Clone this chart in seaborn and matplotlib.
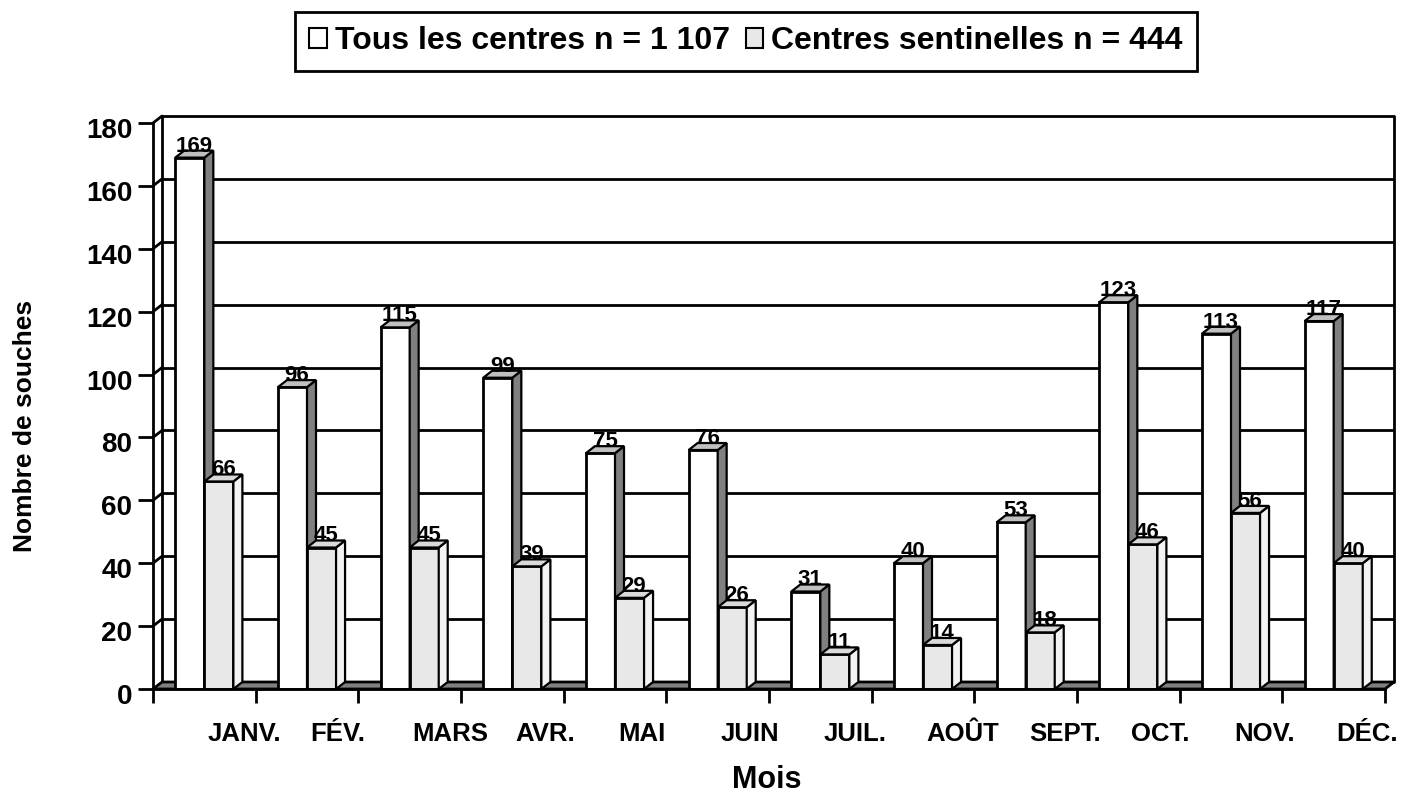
"""
Souches par mois : tous les centres vs centres sentinelles (barres 3D facon Excel)
"""

import numpy as np
import pandas as pd
import matplotlib
matplotlib.use('Agg')
import matplotlib.pyplot as plt
from matplotlib.patches import Polygon, Patch
from matplotlib.transforms import ScaledTranslation
import seaborn as sns

mois = ['JANV.', 'FÉV.', 'MARS', 'AVR.', 'MAI', 'JUIN', 'JUIL.', 'AOÛT', 'SEPT.', 'OCT.', 'NOV.', 'DÉC.']
tous = [169, 96, 115, 99, 75, 76, 31, 40, 53, 123, 113, 117]
sentinelles = [66, 45, 45, 39, 29, 26, 11, 14, 18, 46, 56, 40]
series = ['Tous les centres n = 1 107', 'Centres sentinelles n = 444']
yticks = np.arange(0, 181, 20)

sns.set_style('white')
plt.rcParams['font.family'] = ['Liberation Sans', 'DejaVu Sans']
plt.rcParams['font.weight'] = 'bold'
plt.rcParams['text.color'] = 'black'
plt.rcParams['axes.labelcolor'] = 'black'

df = pd.DataFrame({
    'Mois': mois * 2,
    'n': tous + sentinelles,
    'serie': [series[0]] * len(mois) + [series[1]] * len(mois),
})

fig = plt.figure(figsize=(14.04, 7.94), dpi=100)
ax = fig.add_axes([153/1404, 1-689/794, 1232/1404, 566/794])

front = {series[0]: 'white', series[1]: '#e8e8e8'}
sns.barplot(data=df, x='Mois', y='n', hue='serie', palette=front, width=0.566,
            saturation=1, edgecolor='black', linewidth=2, legend=False, ax=ax)

ax.set_xlim(-0.5, 11.5)
ax.set_ylim(0, 180)

# depth of the fake 3D, in data units (~9 px right, ~7 px up)
ddx = 9 / 102.67
ddy = 7 / 3.144
x_lo, x_hi = -0.5, 11.5

# back wall + left wall
for y in yticks[1:]:
    ax.plot([x_lo+ddx, x_hi+ddx], [y+ddy, y+ddy], color='black', lw=2, zorder=1.5,
            clip_on=False, solid_capstyle='butt')
    ax.plot([x_lo, x_lo+ddx], [y, y+ddy], color='black', lw=2, zorder=1.5, clip_on=False)
ax.plot([x_lo+ddx, x_lo+ddx], [ddy, 180+ddy], color='black', lw=2, zorder=1.5, clip_on=False)
ax.plot([x_hi+ddx, x_hi+ddx], [ddy, 180+ddy], color='black', lw=2, zorder=1.5, clip_on=False)

# floor
ax.add_patch(Polygon([(x_lo, 0), (x_hi, 0), (x_hi+ddx, ddy), (x_lo+ddx, ddy)],
                     closed=True, fc='#808080', ec='black', lw=2, zorder=1.8, clip_on=False))

# side / top faces and value labels
for p in ax.patches[:]:
    if not hasattr(p, 'get_width') or p.get_height() <= 0:
        continue
    x0, w, h = p.get_x(), p.get_width(), p.get_height()
    x1 = x0 + w
    white = p.get_facecolor()[0] > 0.99
    z = 3 if white else 4
    side_c = '#808080' if white else '#f3f3f3'
    top_c = '#c0c0c0' if white else '#dadada'
    p.set_zorder(z)
    ax.add_patch(Polygon([(x1, 0), (x1+ddx, ddy), (x1+ddx, h+ddy), (x1, h)], closed=True,
                         fc=side_c, ec='black', lw=1.6, zorder=z+0.1, clip_on=False))
    ax.add_patch(Polygon([(x0, h), (x1, h), (x1+ddx, h+ddy), (x0+ddx, h+ddy)], closed=True,
                         fc=top_c, ec='black', lw=1.6, zorder=z+0.1, clip_on=False))
    ax.text(x0 + w/2 + ddx/2, h + ddy - 0.3, f'{int(h)}', ha='center', va='baseline',
            fontsize=16, fontweight='bold', color='black', zorder=6, clip_on=False)

# front axes
sns.despine(ax=ax, top=True, right=True)
for s in ['left', 'bottom']:
    ax.spines[s].set_linewidth(2)
    ax.spines[s].set_color('black')
    ax.spines[s].set_zorder(5)

ax.set_yticks(yticks)
ax.tick_params(axis='y', direction='out', left=True, length=11, width=2, pad=4,
               labelsize=20, colors='black')
shift = ScaledTranslation(0, -5/100, fig.dpi_scale_trans)
for lab in ax.get_yticklabels():
    lab.set_transform(lab.get_transform() + shift)

ax.set_xticks(np.arange(len(mois)) + 0.03)
ax.set_xticklabels(mois, ha='left')
ax.set_xticks(np.arange(-0.5, len(mois), 1), minor=True)
ax.tick_params(axis='x', which='major', length=0, pad=24, labelsize=18.5, colors='black')
ax.tick_params(axis='x', which='minor', direction='out', bottom=True, length=10, width=2,
               colors='black')

ax.set_xlabel('Mois', fontsize=22, fontweight='bold')
ax.xaxis.set_label_coords(0.498, -0.135)
ax.set_ylabel('Nombre de souches', fontsize=19, fontweight='bold')
ax.yaxis.set_label_coords(-0.094, 0.465)

handles = [Patch(fc='white', ec='black', lw=1.5), Patch(fc='#e8e8e8', ec='black', lw=1.5)]
leg = fig.legend(handles=handles, labels=series, loc='upper center',
                 bbox_to_anchor=(746/1404, 1-12/794), ncol=2, frameon=True, fancybox=False,
                 framealpha=1, edgecolor='black', prop={'weight': 'bold', 'size': 23},
                 handlelength=0.55, handleheight=0.55, handletextpad=0.25, columnspacing=0.5,
                 borderpad=0.45, borderaxespad=0)
leg.get_frame().set_linewidth(2)

fig.savefig('out.png', dpi=100)
